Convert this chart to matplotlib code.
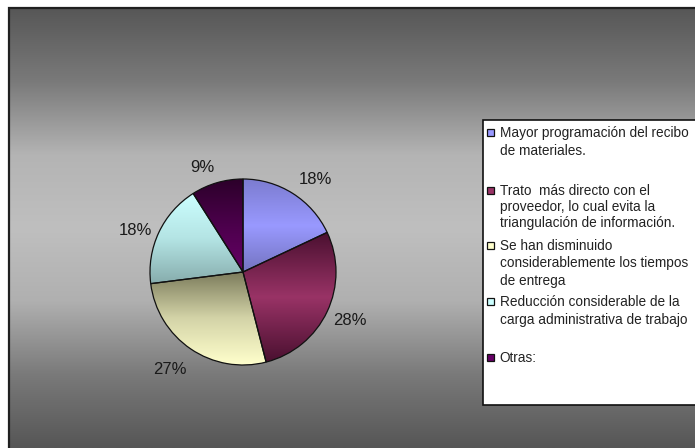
"""Pie chart of perceived benefits, gray gradient background in the old Excel style."""

import matplotlib

matplotlib.use("Agg")
import matplotlib.pyplot as plt
import numpy as np
from matplotlib.colors import to_rgb
from matplotlib.patches import Rectangle

# data
categories = [
    "Mayor programación del recibo\nde materiales.",
    "Trato  más directo con el\nproveedor, lo cual evita la\ntriangulación de información.",
    "Se han disminuido\nconsiderablemente los tiempos\nde entrega",
    "Reducción considerable de la\ncarga administrativa de trabajo",
    "Otras:",
]
shares = [18, 28, 27, 18, 9]

# style
BASE_COLORS = ["#9999ff", "#993366", "#ffffcc", "#ccffff", "#660066"]
SLICE_GRADIENTS = [
    ["#7c7cd0", "#9999ff", "#7474c0"],
    ["#4a1030", "#993366", "#4a1030"],
    ["#7c7c5c", "#d4d4a8", "#ffffcc"],
    ["#ccffff", "#b4e4e4", "#86acac"],
    ["#2c002a", "#4c004c", "#660066"],
]
# label centres, in pie radii from the centre (x right, y up)
LABEL_POS = [(0.78, 0.99), (1.15, -0.52), (-0.79, -1.05), (-1.16, 0.45), (-0.44, 1.12)]
FONT = ["Liberation Sans", "DejaVu Sans"]
W, H = 695, 448
LEGEND_FIRST_Y = [133, 191, 246, 302, 358]
LEGEND_LINE_GAP = [18, 16, 17.5, 18, 18]


def vertical_gradient(colors, n=256):
    stops = np.linspace(0, 1, len(colors))
    pos = np.linspace(0, 1, n)
    rgb = np.array([to_rgb(c) for c in colors])
    out = np.stack([np.interp(pos, stops, rgb[:, k]) for k in range(3)], axis=1)
    return out[:, None, :]


def main() -> None:
    plt.rcParams["font.family"] = FONT
    fig = plt.figure(figsize=(W / 100, H / 100), dpi=100)
    fig.patch.set_facecolor("white")

    # pixel canvas for background + legend
    canvas = fig.add_axes([0, 0, 1, 1], zorder=0)
    canvas.axis("off")

    bg = vertical_gradient(["#575757", "#7a7a7a", "#b4b4b4", "#bfbfbf", "#b0b0b0", "#7a7a7a", "#565656"])
    canvas.imshow(bg, extent=(9, W, H, 8), aspect="auto", interpolation="bilinear", zorder=0)
    canvas.plot([9, 9, W], [H, 8, 8], color="#202020", lw=1.6, zorder=1, solid_joinstyle="miter")
    canvas.set_xlim(0, W)
    canvas.set_ylim(H, 0)

    # legend box
    canvas.add_patch(Rectangle((483, 120), 220, 285, facecolor="white", edgecolor="#111111", lw=1.2, zorder=2))
    for i, (label, color) in enumerate(zip(categories, BASE_COLORS)):
        y0 = LEGEND_FIRST_Y[i]
        canvas.add_patch(
            Rectangle((487, y0 - 3.5), 6.5, 7, facecolor=color, edgecolor="#111111", lw=0.9, zorder=3)
        )
        for j, line in enumerate(label.split("\n")):
            canvas.text(
                499.5,
                y0 + j * LEGEND_LINE_GAP[i],
                line,
                fontsize=9.8,
                color="#222222",
                va="center",
                ha="left",
                zorder=3,
            )

    # pie
    cx, cy, r = 243, 272, 93
    side = 2 * r * 1.4
    ax = fig.add_axes([(cx - side / 2) / W, (H - cy - side / 2) / H, side / W, side / H], zorder=1)
    ax.patch.set_alpha(0)
    wedges, _, autotexts = ax.pie(
        shares,
        startangle=90,
        counterclock=False,
        autopct="%1.0f%%",
        wedgeprops=dict(edgecolor="#111111", linewidth=0.9, facecolor="none"),
        textprops=dict(fontsize=12, color="#1a1a1a"),
    )
    for txt, pos in zip(autotexts, LABEL_POS):
        txt.set_position(pos)
    for wedge, grad in zip(wedges, SLICE_GRADIENTS):
        ext = wedge.get_path().get_extents()
        im = ax.imshow(
            vertical_gradient(grad),
            extent=(ext.x0, ext.x1, ext.y0, ext.y1),
            aspect="auto",
            interpolation="bilinear",
            zorder=0.5,
        )
        im.set_clip_path(wedge)
        wedge.set_zorder(1)
    ax.set_xlim(-1.4, 1.4)
    ax.set_ylim(-1.4, 1.4)
    ax.set_aspect("equal")
    ax.axis("off")

    fig.savefig("out.png", dpi=100)
    plt.close(fig)


if __name__ == "__main__":
    main()
